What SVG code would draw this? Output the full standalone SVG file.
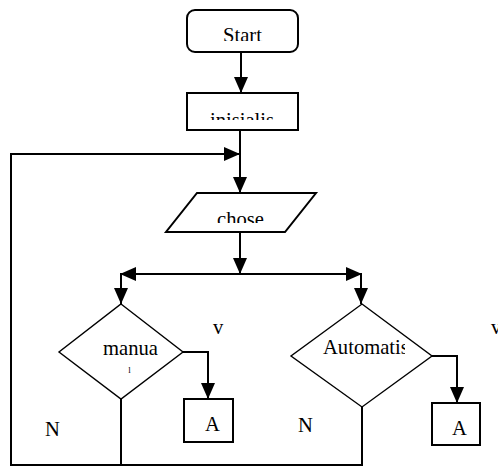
<svg xmlns="http://www.w3.org/2000/svg" width="498" height="466" viewBox="0 0 498 466">
<style>
.box{fill:#fff;stroke:#000;stroke-width:2}
.dia{fill:#fff;stroke:#000;stroke-width:1.4}
.ln{fill:none;stroke:#000;stroke-width:2}
.t{font-family:"Liberation Serif","Times New Roman",serif;font-size:20.6px;fill:#000}
</style>
<defs>
<marker id="ah" markerUnits="userSpaceOnUse" markerWidth="16" markerHeight="14" refX="16" refY="7" orient="auto">
<path d="M0,0 L16,7 L0,14 z" fill="#000"/>
</marker>
<clipPath id="cStart"><rect x="187" y="10" width="111" height="31"/></clipPath>
<clipPath id="cIni"><rect x="187" y="93" width="111" height="27"/></clipPath>
<clipPath id="cChose"><rect x="166" y="193" width="150" height="30"/></clipPath>
<clipPath id="cAuto"><rect x="300" y="330" width="105" height="40"/></clipPath>
</defs>
<g id="connectors">
<line class="ln" x1="241" y1="52" x2="241" y2="93" marker-end="url(#ah)"/>
<line class="ln" x1="240" y1="130" x2="240" y2="193" marker-end="url(#ah)"/>
<polyline class="ln" points="121,399 121,465 11,465 11,154 240,154" marker-end="url(#ah)"/>
<polyline class="ln" points="362,407 362,465 121,465"/>
<line class="ln" x1="240" y1="232" x2="240" y2="274" marker-end="url(#ah)"/>
<line class="ln" x1="240" y1="274" x2="120" y2="274" marker-end="url(#ah)"/>
<line class="ln" x1="240" y1="274" x2="362" y2="274" marker-end="url(#ah)"/>
<line class="ln" x1="121" y1="273" x2="121" y2="304" marker-end="url(#ah)"/>
<line class="ln" x1="361" y1="273" x2="361" y2="304" marker-end="url(#ah)"/>
<polyline class="ln" points="183,352 208,352 208,399" marker-end="url(#ah)"/>
<polyline class="ln" points="432,356 457,356 457,403" marker-end="url(#ah)"/>
</g>
<g id="start">
<rect class="box" x="187" y="10" width="111" height="42" rx="8"/>
<text class="t" x="242.5" y="41.6" text-anchor="middle" clip-path="url(#cStart)">Start</text>
</g>
<g id="inisialis">
<rect class="box" x="187" y="93" width="111" height="37"/>
<text class="t" x="242" y="127" text-anchor="middle" clip-path="url(#cIni)">inisialis</text>
</g>
<g id="chose">
<polygon class="box" points="197,193 316,193 285,232 166,232"/>
<text class="t" x="240.5" y="226" text-anchor="middle" clip-path="url(#cChose)">chose</text>
</g>
<g id="manual">
<polygon class="dia" points="121,304 183,352 121,399 59,352"/>
<text class="t" x="130.5" y="355" text-anchor="middle">manua</text>
<text class="t" x="129.5" y="372.5" text-anchor="middle" style="font-size:9px">l</text>
</g>
<g id="automatis">
<polygon class="dia" points="362,304 432,356 362,407 291,356"/>
<text class="t" x="323" y="354" clip-path="url(#cAuto)">Automatis</text>
</g>
<g id="a1">
<rect class="box" x="184" y="399" width="49" height="43"/>
<text class="t" x="212.5" y="431" text-anchor="middle">A</text>
</g>
<g id="a2">
<rect class="box" x="432" y="403" width="48" height="42"/>
<text class="t" x="459.5" y="435" text-anchor="middle">A</text>
</g>
<g id="labels">
<text class="t" x="213" y="334">v</text>
<text class="t" x="491" y="334">v</text>
<text class="t" x="45" y="436">N</text>
<text class="t" x="298" y="432">N</text>
</g>
</svg>
